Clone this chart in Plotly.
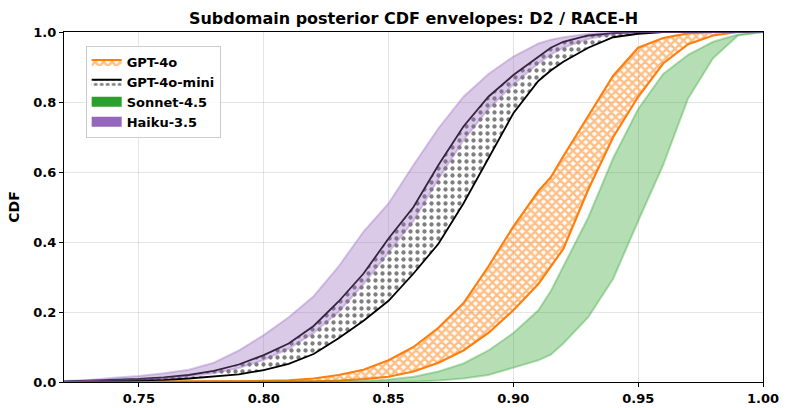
import plotly.graph_objects as go

xs = [0.72, 0.73, 0.74, 0.75, 0.76, 0.77, 0.78, 0.79, 0.80, 0.81, 0.82, 0.83, 0.84, 0.85,
      0.86, 0.87, 0.88, 0.89, 0.90, 0.91, 0.915, 0.92, 0.93, 0.94, 0.95, 0.96, 0.97, 0.98,
      0.99, 1.00]

gpt4o_hi = [0, 0, 0, 0, 0, 0, 0.001, 0.002, 0.003, 0.005, 0.01, 0.02, 0.035, 0.062,
            0.10, 0.155, 0.225, 0.33, 0.444, 0.545, 0.585, 0.645, 0.76, 0.875, 0.955, 0.983,
            0.996, 1, 1, 1]
gpt4o_lo = [0, 0, 0, 0, 0, 0, 0, 0, 0.001, 0.001, 0.002, 0.004, 0.008, 0.015,
            0.03, 0.055, 0.09, 0.14, 0.205, 0.28, 0.33, 0.38, 0.55, 0.70, 0.815, 0.91,
            0.965, 0.99, 1, 1]

mini_hi = [0.002, 0.004, 0.006, 0.009, 0.013, 0.02, 0.032, 0.05, 0.077, 0.11, 0.16, 0.23, 0.31, 0.41,
           0.50, 0.62, 0.73, 0.815, 0.877, 0.93, 0.955, 0.972, 0.99, 0.997, 1, 1,
           1, 1, 1, 1]
mini_lo = [0.0, 0.001, 0.002, 0.004, 0.006, 0.01, 0.015, 0.022, 0.034, 0.052, 0.08, 0.125, 0.175, 0.232,
           0.31, 0.395, 0.51, 0.64, 0.768, 0.86, 0.89, 0.915, 0.955, 0.985, 0.995, 1,
           1, 1, 1, 1]

sonnet_hi = [0, 0, 0, 0, 0, 0, 0, 0, 0, 0, 0, 0.001, 0.003, 0.007,
             0.015, 0.03, 0.053, 0.09, 0.14, 0.205, 0.26, 0.33, 0.47, 0.64, 0.78, 0.88,
             0.935, 0.972, 0.993, 1.0]
sonnet_lo = [0, 0, 0, 0, 0, 0, 0, 0, 0, 0, 0, 0, 0, 0,
             0.001, 0.004, 0.01, 0.02, 0.04, 0.062, 0.078, 0.11, 0.185, 0.295, 0.46, 0.62,
             0.81, 0.925, 0.99, 1.0]

haiku_hi = [0.003, 0.006, 0.012, 0.017, 0.025, 0.035, 0.055, 0.09, 0.134, 0.185, 0.245, 0.33, 0.43, 0.51,
            0.62, 0.725, 0.815, 0.88, 0.93, 0.967, 0.978, 0.985, 0.995, 1, 1, 1,
            1, 1, 1, 1]
haiku_lo = [0.001, 0.002, 0.004, 0.007, 0.010, 0.016, 0.025, 0.04, 0.063, 0.095, 0.14, 0.20, 0.28, 0.37,
            0.46, 0.58, 0.69, 0.78, 0.85, 0.91, 0.935, 0.955, 0.98, 0.995, 1, 1,
            1, 1, 1, 1]

names = ["GPT-4o", "GPT-4o-mini", "Sonnet-4.5", "Haiku-3.5"]
x_ticks = [0.75, 0.80, 0.85, 0.90, 0.95, 1.00]
y_ticks = [0.0, 0.2, 0.4, 0.6, 0.8, 1.0]

ORANGE = "#ff7f0e"
GREEN = "#2ca02c"
PURPLE = "#9467bd"
FONT = "DejaVu Sans"

fig = go.Figure()

# GPT-4o: cross-hatched envelope
fig.add_trace(go.Scatter(x=xs, y=gpt4o_lo, mode="lines", line=dict(color=ORANGE, width=2.2),
                         showlegend=False, hoverinfo="skip"))
fig.add_trace(go.Scatter(x=xs, y=gpt4o_hi, mode="lines", line=dict(color=ORANGE, width=2.2),
                         fill="tonexty", fillcolor="rgba(0,0,0,0)",
                         fillpattern=dict(shape="x", fgcolor=ORANGE, bgcolor="rgba(0,0,0,0)",
                                          size=6, solidity=0.65),
                         showlegend=False, hoverinfo="skip"))
# GPT-4o-mini: dotted envelope
fig.add_trace(go.Scatter(x=xs, y=mini_lo, mode="lines", line=dict(color="black", width=1.8),
                         showlegend=False, hoverinfo="skip"))
fig.add_trace(go.Scatter(x=xs, y=mini_hi, mode="lines", line=dict(color="black", width=1.8),
                         fill="tonexty", fillcolor="rgba(0,0,0,0)",
                         fillpattern=dict(shape=".", fgcolor="black", bgcolor="rgba(0,0,0,0)",
                                          size=7, solidity=0.3),
                         showlegend=False, hoverinfo="skip"))
# Sonnet-4.5
fig.add_trace(go.Scatter(x=xs, y=sonnet_lo, mode="lines", line=dict(color="rgba(44,160,44,0.35)", width=2),
                         showlegend=False, hoverinfo="skip"))
fig.add_trace(go.Scatter(x=xs, y=sonnet_hi, mode="lines", line=dict(color="rgba(44,160,44,0.35)", width=2),
                         fill="tonexty", fillcolor="rgba(44,160,44,0.35)",
                         showlegend=False, hoverinfo="skip"))
# Haiku-3.5
fig.add_trace(go.Scatter(x=xs, y=haiku_lo, mode="lines", line=dict(color="rgba(148,103,189,0.35)", width=2),
                         showlegend=False, hoverinfo="skip"))
fig.add_trace(go.Scatter(x=xs, y=haiku_hi, mode="lines", line=dict(color="rgba(148,103,189,0.35)", width=2),
                         fill="tonexty", fillcolor="rgba(148,103,189,0.35)",
                         showlegend=False, hoverinfo="skip"))

# legend-only entries
fig.add_trace(go.Scatter(x=[None], y=[None], name=names[0], mode="lines", fill="toself",
                         line=dict(color=ORANGE, width=2), fillcolor="white",
                         fillpattern=dict(shape="x", fgcolor=ORANGE, bgcolor="white", size=6, solidity=0.65)))
fig.add_trace(go.Scatter(x=[None], y=[None], name=names[1], mode="lines", fill="toself",
                         line=dict(color="black", width=2), fillcolor="white",
                         fillpattern=dict(shape=".", fgcolor="black", bgcolor="white", size=6, solidity=0.35)))
fig.add_trace(go.Scatter(x=[None], y=[None], name=names[2], mode="lines",
                         line=dict(color=GREEN, width=10)))
fig.add_trace(go.Scatter(x=[None], y=[None], name=names[3], mode="lines",
                         line=dict(color=PURPLE, width=10)))

axis_common = dict(showline=True, linecolor="black", linewidth=1.2, mirror=True,
                   ticks="outside", ticklen=4, tickwidth=1.2, tickcolor="black",
                   showgrid=True, gridcolor="rgba(0,0,0,0.1)", gridwidth=0.8,
                   zeroline=False, automargin=False,
                   tickfont=dict(family=FONT, size=13, color="black", weight="bold"))

fig.update_layout(
    width=789, height=408,
    margin=dict(l=64, r=26, t=32, b=26, autoexpand=False),
    paper_bgcolor="white", plot_bgcolor="white",
    title=dict(text="Subdomain posterior CDF envelopes: D2 / RACE-H", x=(64 + 349.5) / 789, xanchor="center",
               y=1 - 18 / 408, yanchor="middle",
               font=dict(family=FONT, size=16, color="black", weight="bold")),
    xaxis=dict(range=[0.72, 1.0], tickvals=x_ticks, ticktext=[f"{v:.2f}" for v in x_ticks], **axis_common),
    yaxis=dict(range=[0, 1.0], tickvals=y_ticks, ticktext=[f"{v:.1f}" for v in y_ticks],
               title=dict(text="CDF", font=dict(family=FONT, size=14, color="black", weight="bold"), standoff=10),
               **axis_common),
    legend=dict(x=0.031, y=0.96, xanchor="left", yanchor="top",
                bgcolor="rgba(255,255,255,0.85)", bordercolor="#cccccc", borderwidth=1,
                font=dict(family=FONT, size=13, color="black", weight="bold"),
                itemwidth=30, tracegroupgap=0, traceorder="normal"),
    showlegend=True,
)

fig.write_html("out.html", config={"displayModeBar": False},
               post_script="document.body.style.margin='0';document.body.style.overflow='hidden';")
